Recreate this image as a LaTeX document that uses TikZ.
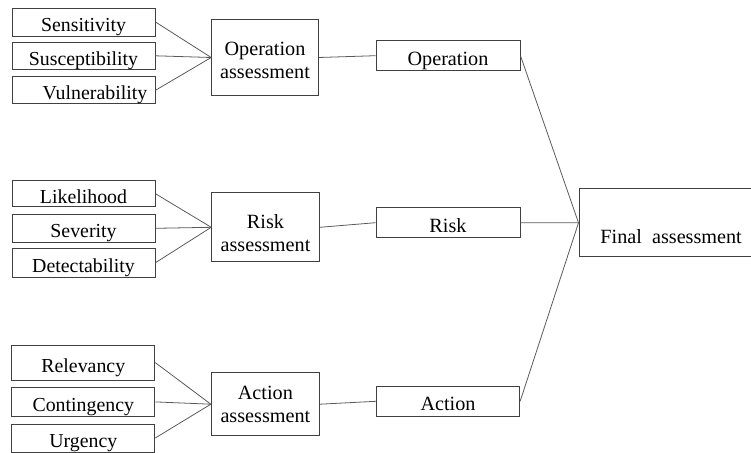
\documentclass[tikz,border=0pt]{standalone}
\usepackage{fontspec}
\setmainfont{Liberation Serif}
\begin{document}
\begin{tikzpicture}[x=0.02cm,y=-0.02cm,
  box/.style={draw=black!75,line width=0.55pt,inner sep=0pt,align=center,
    font=\fontsize{11.5}{13.2}\selectfont},
  single/.style={text height=#1,text depth=0pt},
  single/.default=11pt,
  leaf/.style={box,single,minimum width=143*0.02cm,
    font=\fontsize{11.3}{13.2}\selectfont},
  mid/.style={box,single,minimum width=144*0.02cm,minimum height=30*0.02cm},
  link/.style={draw=black!65,line width=0.45pt}]
\useasboundingbox (0,0) rectangle (751,453);

% operation branch
\node[leaf,minimum height=28*0.02cm] (sen) at (83.5,22) {Sensitivity};
\node[leaf,minimum height=27*0.02cm] (sus) at (83.5,55.8) {Susceptibility};
\node[leaf,minimum height=27.3*0.02cm] (vul) at (83.5,90.3) {\hspace*{13pt}Vulnerability};
\node[box,minimum width=106.7*0.02cm,minimum height=76.7*0.02cm] (opa) at (265,57.5)
  {\rule{0pt}{11.2pt}Operation\\assessment};
\node[mid] (op) at (448,55.7) {Operation};

% risk branch
\node[leaf,minimum height=26*0.02cm] (lik) at (83.5,193.7) {Likelihood};
\node[leaf,minimum height=28*0.02cm] (sev) at (83.5,228.3) {Severity};
\node[leaf,minimum height=28.7*0.02cm] (det) at (83.5,262.7) {Detectability};
\node[box,minimum width=107.6*0.02cm,minimum height=69*0.02cm] (ria) at (265.5,227.3)
  {\rule{0pt}{14.3pt}Risk\\assessment};
\node[mid] (risk) at (448,222.7) {Risk};

% action branch
\node[leaf,minimum height=34.8*0.02cm] (rel) at (83.3,362.6) {Relevancy};
\node[leaf,minimum height=28.7*0.02cm] (con) at (83.3,401.9) {Contingency};
\node[leaf,minimum height=28*0.02cm] (urg) at (83.3,438) {Urgency};
\node[box,minimum width=108.2*0.02cm,minimum height=63.2*0.02cm] (aca) at (265.4,404.2)
  {Action\\assessment};
\node[mid,minimum width=143.3*0.02cm,minimum height=29.7*0.02cm] (act) at (448,401.3) {Action};

% final node
\node[box,single=24pt,minimum width=172*0.02cm,minimum height=68*0.02cm] (fin) at (665,222.8)
  {\hspace*{7pt}Final\ \ assessment};

% connectors
\foreach \s/\t in {sen/opa,sus/opa,vul/opa,lik/ria,sev/ria,det/ria,rel/aca,con/aca,urg/aca}
  \draw[link] (\s.east) -- (\t.west);
\draw[link] (opa.east) -- (op.west);
\draw[link] (ria.east) -- (risk.west);
\draw[link] (aca.east) -- (act.west);
\foreach \s in {op,risk,act}
  \draw[link] (\s.east) -- (fin.west);
\end{tikzpicture}
\end{document}
